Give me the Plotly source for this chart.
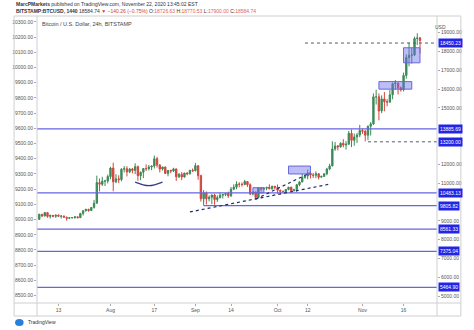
import plotly.graph_objects as go
import pandas as pd

dates = pd.date_range("2020-07-06", "2020-11-22", freq="D")
opens = [9075,9345,9255,9435,9235,9290,9240,9300,9245,9255,9195,9135,9160,9175,9210,9165,9390,9535,9610,9550,9710,9935,11030,10945,11110,11115,
         11350,11805,11070,11230,11190,11740,11770,11600,11755,11680,11880,11400,11580,11780,11770,11860,11910,12300,11960,11750,11860,11520,11680,11650,11760,11340,11470,11330,11540,11500,11690,
         11660,11930,11400,10170,10480,10170,10250,10370,10130,10230,10360,10400,10450,10330,10680,10790,10950,10940,10930,11090,10920,10420,10530,10240,10740,10690,10730,10780,10700,10840,
         10780,10620,10570,10550,10670,10790,10600,10670,10920,11060,11300,11380,11540,11430,11420,11500,11320,11360,11500,11750,11920,12820,12980,12930,13120,13030,13070,13650,13280,13460,13560,
         13800,13760,13550,14030,14150,15590,15590,14840,15480,15330,15310,15700,16290,16330,16070,15960,16730,17680,17800,17820,18690,18726.63]
highs = [9375,9365,9470,9450,9315,9300,9340,9340,9280,9275,9210,9185,9190,9240,9220,9420,9550,9640,9640,9730,10110,11400,11250,11340,11180,11460,
         11870,12090,11480,11420,11800,11910,11900,11800,11810,12060,11940,11620,11790,12000,11970,11930,12470,12400,12020,11880,11880,11690,11710,11820,11770,11540,11590,11550,11580,11700,11780,
         12080,11950,11450,10630,10560,10350,10400,10440,10350,10500,10400,10480,10550,10800,10940,11100,11050,11040,11180,11090,10990,10570,10540,10770,10750,10790,10790,10940,10860,10850,
         10930,10660,10600,10690,10800,10800,10690,10960,11120,11490,11440,11720,11560,11550,11630,11540,11400,11520,11820,12030,13220,13190,13030,13170,13340,13240,13780,13860,13640,13680,14100,
         13900,13830,14060,14250,15770,15970,15770,15670,15840,15470,15960,16350,16480,16330,16140,16880,17850,18480,18190,18790,18970,18770.53]
lows = [9060,9200,9235,9160,9120,9190,9160,9200,9120,9170,9010,9090,9120,9110,9130,9155,9280,9490,9480,9530,9650,9920,10560,10850,10850,10990,
        11210,10570,11000,11000,11100,11570,11360,11530,11520,11480,11130,11160,11270,11650,11680,11690,11780,11830,11570,11670,11500,11370,11530,11590,11120,11270,11160,11290,11420,11460,11590,
        11630,11180,10020,9970,9870,10030,9880,9850,10000,10200,10190,10310,10220,10270,10630,10680,10780,10820,10890,10800,10370,10350,10140,10210,10560,10650,10620,10680,10650,10670,
        10440,10380,10500,10530,10620,10530,10560,10540,10840,11060,11240,11210,11250,11280,11270,11200,11290,11340,11420,11690,11900,12720,12740,12890,12910,12790,13060,12920,12990,13130,13440,
        13620,13220,13290,13530,14100,15180,14340,14720,14820,15090,15280,15460,15970,15720,15870,15880,16560,17210,17360,17760,18350,17900]
closes = [9345,9255,9435,9235,9290,9240,9300,9245,9255,9195,9135,9160,9175,9210,9165,9390,9535,9610,9550,9710,9935,11030,10945,11110,11115,11350,
          11805,11070,11230,11190,11740,11770,11600,11755,11680,11880,11400,11580,11780,11770,11860,11910,12300,11960,11750,11860,11520,11680,11650,11760,11340,11470,11330,11540,11500,11690,11660,
          11930,11400,10170,10480,10170,10250,10370,10130,10230,10360,10400,10450,10330,10680,10790,10950,10940,10930,11090,10920,10420,10530,10240,10740,10690,10730,10780,10700,10840,10780,
          10620,10570,10550,10670,10790,10600,10670,10920,11060,11300,11380,11540,11430,11420,11500,11320,11360,11500,11750,11920,12820,12980,12930,13120,13030,13070,13650,13280,13460,13560,13800,
          13760,13550,14030,14150,15590,15590,14840,15480,15330,15310,15700,16290,16330,16070,15960,16730,17680,17800,17820,18690,18720,18584.74]

level_vals = [13885.69, 10483.13, 8561.33, 7375.04, 5464.90]
zone_val = [10483.13, 9805.82]
dotted_vals = [18450.23, 13200.00]
right_ticks = [5000, 6000, 7000, 8000, 9000, 11000, 12000, 15000, 16000, 17000, 18000, 19000]
left_ticks = list(range(8500, 10301, 100))
x_tick_dates = ["2020-07-13", "2020-08-01", "2020-08-17", "2020-09-01", "2020-09-14",
                "2020-10-01", "2020-10-12", "2020-11-01", "2020-11-16"]
x_tick_text = ["13", "Aug", "17", "Sep", "14", "Oct", "12", "Nov", "16"]

BLUE = "#6666e0"
LBL = "#2424e6"
FONT = "Liberation Sans, DejaVu Sans, sans-serif"
GRID = "#cfcfcf"

fig = go.Figure()
fig.add_trace(go.Scatter(x=[dates[0]], y=[9000], yaxis="y", mode="markers",
                         marker=dict(opacity=0), hoverinfo="skip", showlegend=False))
fig.add_trace(go.Candlestick(
    x=dates, open=opens, high=highs, low=lows, close=closes, yaxis="y2",
    increasing=dict(line=dict(color="#3c8a57", width=1), fillcolor="#3c8a57"),
    decreasing=dict(line=dict(color="#d2463c", width=1), fillcolor="#d2463c"),
    whiskerwidth=0, showlegend=False))
# arc drawing
fig.add_trace(go.Scatter(x=["2020-08-10", "2020-08-15", "2020-08-20"], y=[11060, 10870, 11060],
                         yaxis="y2", mode="lines", line=dict(color="#2e3a8c", width=1.3, shape="spline"),
                         hoverinfo="skip", showlegend=False))

shapes = []
for v in level_vals:
    shapes.append(dict(type="line", xref="paper", x0=0, x1=1, yref="y2", y0=v, y1=v,
                       line=dict(color=BLUE, width=1.3)))
shapes.append(dict(type="line", xref="x", x0="2020-09-04", x1="2020-11-28 05:00", yref="y2",
                   y0=zone_val[1], y1=zone_val[1], line=dict(color=BLUE, width=1.3)))
shapes.append(dict(type="line", xref="x", x0="2020-09-04", x1="2020-09-04", yref="y2",
                   y0=zone_val[0], y1=zone_val[1], line=dict(color=BLUE, width=1)))
shapes.append(dict(type="line", xref="x", x0="2020-10-11", x1="2020-11-28 05:00", yref="y2",
                   y0=dotted_vals[0], y1=dotted_vals[0], line=dict(color="#555a70", width=1, dash="dot")))
shapes.append(dict(type="line", xref="x", x0="2020-11-03", x1="2020-11-28 05:00", yref="y2",
                   y0=dotted_vals[1], y1=dotted_vals[1], line=dict(color="#555a70", width=1, dash="dot")))
# trend lines
shapes.append(dict(type="line", xref="x", x0="2020-08-30", x1="2020-10-20", yref="y2",
                   y0=9470, y1=10950, line=dict(color="#1f2a6e", width=1.2, dash="dot")))
shapes.append(dict(type="line", xref="x", x0="2020-09-23", x1="2020-10-13", yref="y2",
                   y0=10150, y1=11560, line=dict(color="#1f2a6e", width=1.2, dash="dot")))
# boxes
for (a, b, lo, hi) in [("2020-09-22", "2020-09-26", 10490, 10760),
                       ("2020-10-05", "2020-10-13", 11490, 11910),
                       ("2020-11-07", "2020-11-19", 16000, 16400),
                       ("2020-11-16", "2020-11-22", 17400, 18200)]:
    shapes.append(dict(type="rect", xref="x", x0=a, x1=b, yref="y2", y0=lo, y1=hi,
                       fillcolor="rgba(110,110,235,0.45)", line=dict(color=BLUE, width=1)))

# frame
def px(xp):
    return (xp - 27) / 419.0
def py(yp):
    return (303 - yp) / 287.0
for (x0, y0, x1, y1) in [(3, 16, 471, 16), (3, 303, 471, 303), (3, 316, 471, 316),
                         (3, 16, 3, 316), (471, 16, 471, 316), (27, 16, 27, 316), (446, 16, 446, 316)]:
    shapes.append(dict(type="line", xref="paper", yref="paper", x0=px(x0), x1=px(x1), y0=py(y0), y1=py(y1),
                       line=dict(color=GRID, width=1)))
shapes.append(dict(type="circle", xref="paper", yref="paper", x0=px(4), x1=px(13), y0=py(326), y1=py(319),
                   fillcolor="#2a80d8", line=dict(width=0)))

annotations = []
all_labels = level_vals + [zone_val[1], dotted_vals[0], dotted_vals[1]]
for v in all_labels:
    annotations.append(dict(xref="paper", x=1, xanchor="left", xshift=1, yref="y2", y=v, yanchor="middle",
                            text=f"{v:.2f}", showarrow=False, bgcolor=LBL, borderpad=1,
                            font=dict(color="white", size=5, family=FONT)))
annotations.append(dict(xref="paper", yref="paper", x=px(458), y=py(22), text="USD", showarrow=False,
                        font=dict(size=5, color="#555", family=FONT)))
annotations.append(dict(xref="paper", yref="paper", x=px(3), y=py(4), xanchor="left", yanchor="middle",
                        text="<b>MarcPMarkets</b> published on TradingView.com, November 22, 2020 13:45:02 EST",
                        showarrow=False, font=dict(size=5, color="#333", family=FONT)))
annotations.append(dict(xref="paper", yref="paper", x=px(3), y=py(11), xanchor="left", yanchor="middle",
                        text="<b>BITSTAMP:BTCUSD, 1440</b> 18584.74 <span style='color:#d23c3c'>▼ −140.26 (−0.75%)</span> "
                             "O:<span style='color:#e06060'>18726.63</span> H:<span style='color:#e06060'>18770.53</span> "
                             "L:<span style='color:#e06060'>17900.00</span> C:<span style='color:#e06060'>18584.74</span>",
                        showarrow=False, font=dict(size=5, color="#333", family=FONT)))
annotations.append(dict(xref="paper", yref="paper", x=px(30), y=py(24), xanchor="left", yanchor="middle",
                        text="Bitcoin / U.S. Dollar, 24h, BITSTAMP", showarrow=False,
                        font=dict(size=5.5, color="#444", family=FONT)))
annotations.append(dict(xref="paper", yref="paper", x=px(15), y=py(322), xanchor="left", yanchor="middle",
                        text="TradingView", showarrow=False, font=dict(size=5, color="#333", family=FONT)))

fig.update_layout(
    width=474, height=330, margin=dict(l=27, r=28, t=16, b=27),
    paper_bgcolor="white", plot_bgcolor="white",
    font=dict(family=FONT, size=5, color="#555"),
    xaxis=dict(type="date", range=["2020-07-05 04:00", "2020-11-28 05:00"], rangeslider=dict(visible=False),
               tickvals=x_tick_dates, ticktext=x_tick_text, showgrid=False, zeroline=False,
               ticks="outside", ticklen=2, tickcolor="#aaa", tickfont=dict(size=5, color="#555"), showline=False),
    yaxis=dict(range=[8451, 10339], tickvals=left_ticks, ticktext=[f"{v:.2f}" for v in left_ticks],
               showgrid=False, zeroline=False, ticks="outside", ticklen=2, tickcolor="#aaa",
               tickfont=dict(size=5, color="#555"), side="left", fixedrange=True),
    yaxis2=dict(range=[4630, 19888], overlaying="y", side="right", tickvals=right_ticks,
                ticktext=[f"{v:.2f}" for v in right_ticks], showgrid=False, zeroline=False,
                ticks="outside", ticklen=2, tickcolor="#aaa", tickfont=dict(size=5, color="#555")),
    shapes=shapes, annotations=annotations, showlegend=False,
)
fig.write_html("out.html")
